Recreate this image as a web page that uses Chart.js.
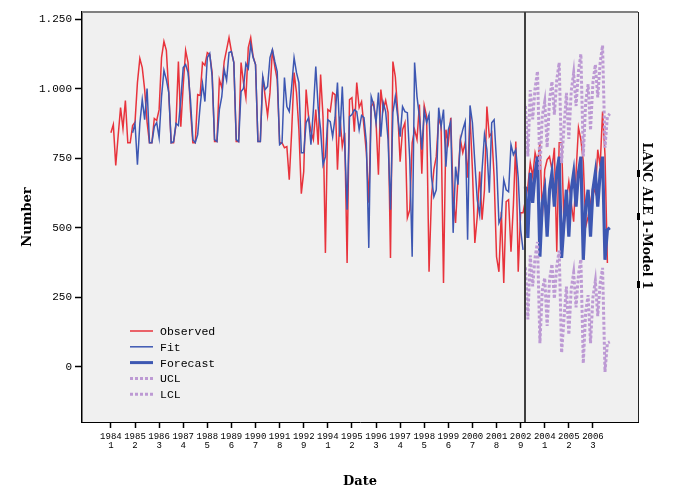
<!DOCTYPE html>
<html>
<head>
<meta charset="utf-8">
<script src="https://cdn.jsdelivr.net/npm/chart.js@4.4.1/dist/chart.umd.min.js"></script>
<style>
  html, body { margin: 0; padding: 0; background: #fff; }
  canvas { display: block; }
</style>
</head>
<body>
<canvas id="chart" width="674" height="500"></canvas>
<script>
// series start positions (index of period, 9 periods per year, 1984/1 = 0)
const fitStart = 9;
const forecastStart = 172;

const observed = [
  842, 871, 724, 830, 932, 857, 958, 806, 806,
  868, 880, 1022, 1109, 1076, 997, 880, 806, 806,
  893, 886, 925, 1112, 1170, 1138, 986, 806, 806,
  871, 1098, 864, 1012, 1138, 1094, 925, 806, 806,
  979, 976, 1094, 1084, 1130, 1123, 1058, 810, 810,
  1033, 1004, 1098, 1141, 1184, 1134, 1094, 810, 810,
  1094, 1022, 968, 1148, 1184, 1116, 1087, 810, 810,
  1044, 972, 904, 986, 1141, 1080, 1033, 806, 806,
  788, 792, 673, 846, 1058, 986, 853, 623, 702,
  997, 900, 846, 817, 925, 799,
  1051, 900, 410, 925, 918, 986, 979, 709, 900, 792,
  842, 374, 961, 968, 846, 1022, 932, 954, 864, 770,
  590, 936, 950, 882, 691, 997, 925, 958, 914, 392,
  1098, 1044, 918, 738, 853, 878, 536, 565, 806, 853,
  817, 943, 695,
  940, 900, 342, 612, 709, 756, 896, 864, 302, 853,
  806, 896, 612, 518, 680, 817, 770, 806, 680, 904,
  709, 446, 540, 702, 529, 637, 936, 828, 842, 684,
  396, 342, 558, 302, 594, 601, 414, 583, 810, 342,
  554, 554,
  600, 648, 734, 684, 770, 734, 806, 540, 709, 745,
  756, 709, 788, 414, 806, 806, 504, 601, 666, 590,
  522, 698, 860, 817, 738, 504, 540, 590, 648, 626,
  781, 720, 918, 763, 374
];

const fit = [
  842, 875, 727, 875, 961, 889, 1001, 806, 806, 864,
  878, 824, 972, 1066, 1033, 986, 806, 810, 875, 868,
  961, 1076, 1087, 1058, 961, 817, 806, 835, 936, 1019,
  954, 1112, 1127, 1044,
  817, 810, 925, 972, 1069, 1030, 1130, 1134, 1094, 817,
  810, 990, 1001, 1091, 1073, 1159, 1112, 1087, 810, 810,
  1044, 997, 1008, 1112, 1141, 1098, 1062, 799, 806, 1040,
  936, 918, 1008, 1112, 1058, 1022, 770, 770, 878, 896,
  799, 925, 1080, 932,
  853, 727, 756, 889, 882, 828, 896, 1022, 828, 1008,
  806, 565, 900, 907, 925, 918, 853, 904, 896, 806,
  428, 972, 943, 878, 986, 828, 950, 918, 817, 565,
  914, 972, 900, 828, 936, 918, 914, 745, 396, 1094,
  972, 900, 781,
  920, 878, 907, 684, 612, 637, 932, 864, 925, 720,
  853, 882, 482, 720, 655, 817, 853, 882, 457, 940,
  878, 734, 601, 547, 709, 835, 781, 626, 878, 889,
  738, 518, 540, 673, 637, 630, 799, 763, 781, 680,
  493, 421
];

const forecast = [
  648, 464, 698, 590, 698, 756, 396, 590, 637,
  468, 637, 698, 576, 698, 756, 392, 518, 637,
  468, 637, 698, 576, 698, 756, 385, 576, 637,
  468, 637, 698, 576, 698, 756, 385, 493, 500
];

const ucl = [
  938, 757, 995, 890, 1002, 1063, 707, 904, 954,
  789, 961, 1026, 907, 1033, 1094, 733, 863, 985,
  820, 992, 1057, 938, 1063, 1125, 757, 952, 1016,
  851, 1023, 1087, 969, 1094, 1156, 788, 900, 910
];

const lcl = [
  358, 171, 401, 290, 394, 449, 85, 276, 320,
  147, 313, 370, 245, 363, 418, 51, 173, 289,
  116, 282, 339, 214, 333, 387, 13, 200, 258,
  85, 251, 309, 183, 302, 356, -18, 86, 90
];

const tickIndex = [0, 10, 20, 30, 40, 50, 60, 70, 80, 90, 100, 110, 120, 130, 140, 150, 160, 170, 180, 190, 200];
const tickYears = ['1984', '1985', '1986', '1987', '1988', '1989', '1990', '1991', '1992', '1994', '1995',
                   '1996', '1997', '1998', '1999', '2000', '2001', '2002', '2004', '2005', '2006'];
const tickPeriods = ['1', '2', '3', '4', '5', '6', '7', '8', '9', '1', '2', '3', '4', '5', '6', '7', '8', '9', '1', '2', '3'];
const yTicks = [0, 250, 500, 750, 1000, 1250];

const RED = '#e8333c';
const BLUE = '#3d57b2';
const LILAC = '#bd9ad4';

function pts(arr, start) {
  return arr.map((v, i) => ({ x: i + start, y: v }));
}

function fmtNum(v) {
  if (Math.abs(v) >= 1000) {
    return Math.floor(v / 1000) + '.' + String(v % 1000).padStart(3, '0');
  }
  return String(v);
}

const legendItems = [
  { text: 'Observed', color: RED, width: 1.5, dash: [] },
  { text: 'Fit', color: BLUE, width: 1.5, dash: [] },
  { text: 'Forecast', color: BLUE, width: 3, dash: [] },
  { text: 'UCL', color: LILAC, width: 3, dash: [3, 2] },
  { text: 'LCL', color: LILAC, width: 3, dash: [3, 2] }
];

const decor = {
  id: 'decor',
  beforeDraw(chart) {
    const { ctx, chartArea: a } = chart;
    ctx.save();
    ctx.fillStyle = '#f0f0f0';
    ctx.fillRect(a.left, a.top, a.right - a.left, a.bottom - a.top);
    ctx.restore();
  },
  afterDraw(chart) {
    const { ctx, chartArea: a } = chart;
    ctx.save();
    // frame
    ctx.strokeStyle = '#808080';
    ctx.lineWidth = 2;
    ctx.beginPath();
    ctx.moveTo(a.left, a.top);
    ctx.lineTo(a.right, a.top);
    ctx.stroke();
    ctx.strokeStyle = '#222';
    ctx.lineWidth = 1;
    ctx.beginPath();
    ctx.moveTo(a.right + 0.5, a.top);
    ctx.lineTo(a.right + 0.5, a.bottom);
    ctx.stroke();

    // forecast start reference line
    const xr = Math.round(chart.scales.x.getPixelForValue(forecastStart));
    ctx.strokeStyle = '#404040';
    ctx.lineWidth = 2;
    ctx.beginPath();
    ctx.moveTo(xr, a.top);
    ctx.lineTo(xr, a.bottom);
    ctx.stroke();

    // legend
    ctx.font = '11.5px "Liberation Mono", monospace';
    ctx.textBaseline = 'middle';
    legendItems.forEach((it, k) => {
      const y = 331 + k * 15.8;
      ctx.strokeStyle = it.color;
      ctx.lineWidth = it.width;
      ctx.setLineDash(it.dash);
      ctx.beginPath();
      ctx.moveTo(130, y);
      ctx.lineTo(153, y);
      ctx.stroke();
      ctx.setLineDash([]);
      ctx.fillStyle = '#000';
      ctx.fillText(it.text, 160, y + 1);
    });

    // right side panel label
    ctx.fillStyle = '#000';
    [173, 216, 284].forEach(y => ctx.fillRect(a.right - 1, y - 3, 3, 7));
    ctx.translate(646, 216);
    ctx.rotate(Math.PI / 2);
    ctx.font = 'bold 12.5px "DejaVu Serif", serif';
    ctx.textAlign = 'center';
    ctx.textBaseline = 'middle';
    ctx.fillText('LANC ALE 1-Model 1', 0, 0);
    ctx.restore();
  }
};

new Chart(document.getElementById('chart'), {
  type: 'line',
  data: {
    datasets: [
      { label: 'Observed', data: pts(observed, 0), borderColor: RED, borderWidth: 1.5, order: 4 },
      { label: 'Fit', data: pts(fit, fitStart), borderColor: BLUE, borderWidth: 1.5, order: 3 },
      { label: 'Forecast', data: pts(forecast, forecastStart), borderColor: BLUE, borderWidth: 3.2, order: 2 },
      { label: 'UCL', data: pts(ucl, forecastStart), borderColor: LILAC, borderWidth: 3, borderDash: [3, 2], order: 1 },
      { label: 'LCL', data: pts(lcl, forecastStart), borderColor: LILAC, borderWidth: 3, borderDash: [3, 2], order: 1 }
    ]
  },
  options: {
    responsive: false,
    animation: false,
    devicePixelRatio: 1,
    layout: { padding: { top: 12, right: 36, left: 0, bottom: 0 } },
    elements: { point: { radius: 0 }, line: { tension: 0, fill: false } },
    plugins: { legend: { display: false }, tooltip: { enabled: false } },
    scales: {
      x: {
        type: 'linear',
        min: -12,
        max: 218.7,
        afterFit: s => { s.height = 78; },
        afterBuildTicks: s => { s.ticks = tickIndex.map(v => ({ value: v })); },
        ticks: {
          autoSkip: false,
          maxRotation: 0,
          padding: 4,
          color: '#000',
          font: { family: '"Liberation Mono", monospace', size: 9, lineHeight: 1.0 },
          callback: v => {
            const k = tickIndex.indexOf(v);
            return k < 0 ? null : [tickYears[k], tickPeriods[k]];
          }
        },
        grid: { drawOnChartArea: false, tickLength: 6, color: '#000', tickWidth: 1.5 },
        border: { color: '#000', width: 1 },
        title: {
          display: true,
          text: 'Date',
          color: '#000',
          font: { family: '"DejaVu Serif", serif', size: 13, weight: 'bold' },
          padding: { top: 0, bottom: 11 }
        }
      },
      y: {
        min: -198,
        max: 1276,
        afterFit: s => { s.width = 82; },
        afterBuildTicks: s => { s.ticks = yTicks.map(v => ({ value: v })); },
        ticks: {
          padding: 3,
          color: '#000',
          font: { family: '"Liberation Mono", monospace', size: 11 },
          callback: v => fmtNum(v)
        },
        grid: { drawOnChartArea: false, tickLength: 7, color: '#000', tickWidth: 1.5 },
        border: { color: '#000', width: 1.5 },
        title: {
          display: true,
          text: 'Number',
          color: '#000',
          font: { family: '"DejaVu Serif", serif', size: 13, weight: 'bold' },
          padding: { top: 20, bottom: 0 }
        }
      }
    }
  },
  plugins: [decor]
});
</script>
</body>
</html>
